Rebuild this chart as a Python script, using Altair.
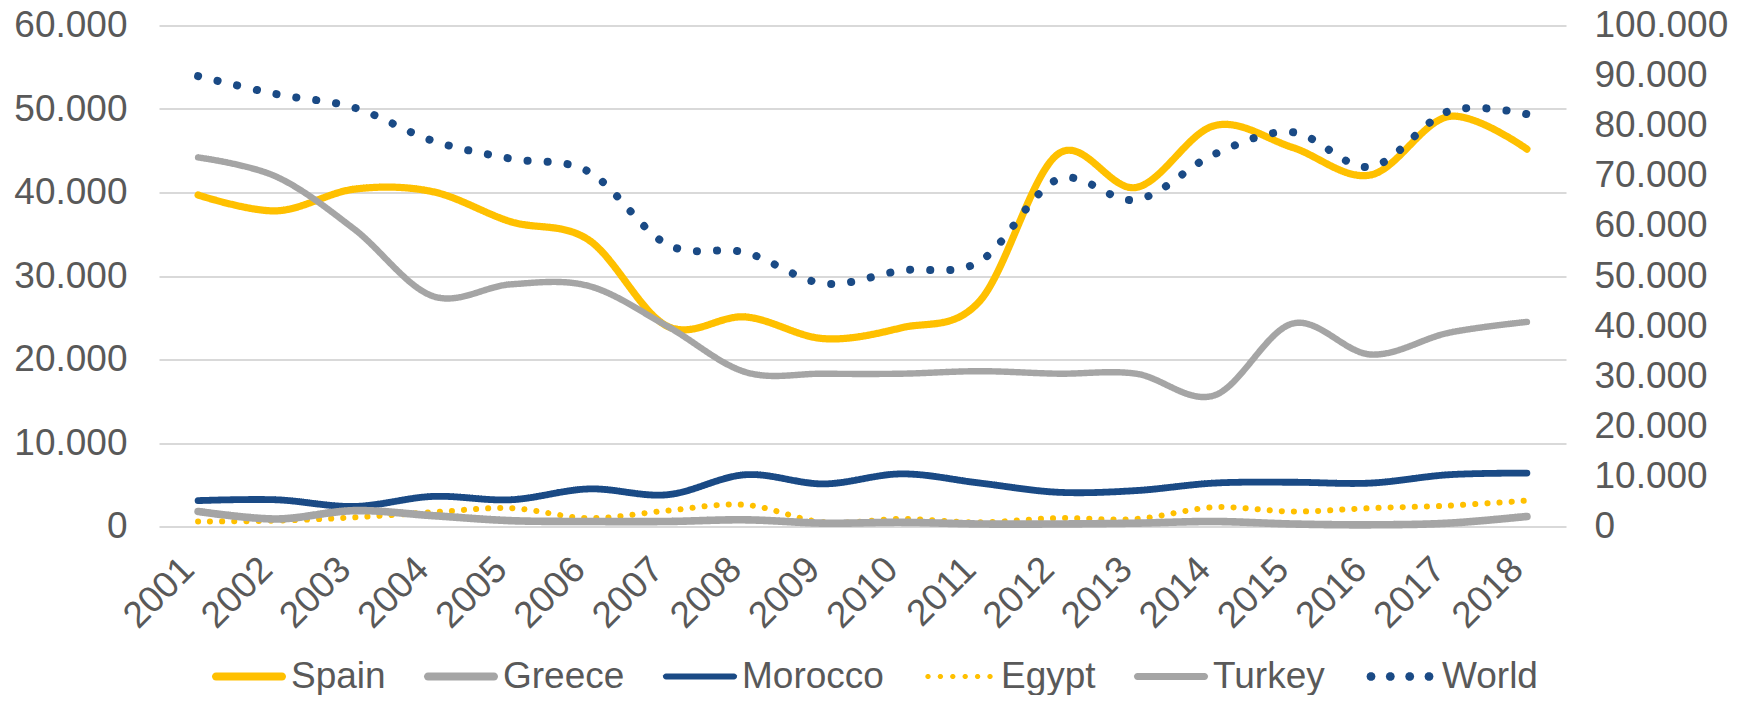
import math
import altair as alt
import pandas as pd

years = ["2001", "2002", "2003", "2004", "2005", "2006", "2007", "2008", "2009",
         "2010", "2011", "2012", "2013", "2014", "2015", "2016", "2017", "2018"]

spain = [39700, 37800, 40400, 40100, 36500, 34300, 24000, 25100, 22500,
         23800, 27000, 44600, 40600, 48000, 45400, 42100, 49100, 45200]
greece = [44200, 41900, 35600, 27600, 29000, 28800, 24000, 18500, 18300,
          18300, 18600, 18300, 18300, 15700, 24300, 20600, 23200, 24500]
morocco = [3100, 3200, 2400, 3600, 3200, 4500, 3800, 6200, 5100,
           6300, 5200, 4100, 4300, 5200, 5300, 5200, 6200, 6400]
egypt = [600, 700, 1100, 1700, 2200, 1000, 1900, 2600, 500,
         900, 500, 1000, 900, 2300, 1800, 2200, 2500, 3100]
turkey = [1800, 900, 1900, 1300, 700, 600, 600, 800, 400,
          500, 300, 300, 400, 600, 300, 200, 400, 1200]
world = [89900, 86300, 83600, 77000, 73400, 70800, 56300, 54700, 48500,
         51100, 52900, 69300, 65200, 74300, 78700, 71800, 82900, 82300]

series_names = ["Spain", "Greece", "Morocco", "Egypt", "Turkey", "World"]
series_colors = ["#FFC000", "#A5A5A5", "#1A4A85", "#FFC000", "#A5A5A5", "#1A4A85"]
series_dash = [[1, 0], [1, 0], [1, 0], [0.1, 12], [1, 0], [0.1, 20]]
series_width = [8, 8, 6, 6, 6.5, 9.5]

# style scales use an alphabetical domain (keeps them separate from the key)
style_order = sorted(series_names)
style_dash = [series_dash[series_names.index(n)] for n in style_order]
style_width = [series_width[series_names.index(n)] for n in style_order]

left_series = {"Spain": spain, "Greece": greece, "Morocco": morocco,
               "Egypt": egypt, "Turkey": turkey}

left_rows = []
for name, vals in left_series.items():
    for y, v in zip(years, vals):
        left_rows.append({"Year": y, "Series": name, "Value": v})
left_df = pd.DataFrame(left_rows)
right_df = pd.DataFrame({"Year": years, "Series": "World", "Value": world})
key_df = pd.DataFrame({"Year": years[0], "Series": series_names, "Value": 0})

FONT = "Liberation Sans"
TXT = "#595959"
label_expr = "replace(format(datum.value, ','), ',', '.')"

# ---- legend symbol paths (unit square -1..1, symbol is 74 px wide) ----
SYM = 74.0
HALF = SYM / 2


def f(v):
    return f"{v:.4f}"


def bar_path(thick_px):
    h = thick_px / 2 / HALF
    pts = []
    n = 8
    for k in range(n + 1):
        a = -math.pi / 2 + math.pi * k / n
        pts.append((1 - h + h * math.cos(a), h * math.sin(a)))
    for k in range(n + 1):
        a = math.pi / 2 + math.pi * k / n
        pts.append((-1 + h + h * math.cos(a), h * math.sin(a)))
    return "M" + " L".join(f"{f(x)},{f(y)}" for x, y in pts) + " Z"


def dots_path(offsets_px, dia_px):
    r = dia_px / 2 / HALF
    parts = []
    for c in offsets_px:
        cx = c / HALF
        pts = []
        for k in range(10):
            a = 2 * math.pi * k / 10
            pts.append((cx + r * math.cos(a), r * math.sin(a)))
        parts.append("M" + " L".join(f"{f(x)},{f(y)}" for x, y in pts) + " Z")
    return " ".join(parts)


legend_shapes = [
    bar_path(8),
    bar_path(8),
    bar_path(6),
    dots_path([-31, -18.6, -6.2, 6.2, 18.6, 31], 5.5),
    bar_path(7),
    dots_path([-29, -9.7, 9.7, 29], 9),
]

x_enc = alt.X("Year:N", sort=years, title=None,
              axis=alt.Axis(labelAngle=-45, labelAlign="right", labelBaseline="middle",
                            labelFontSize=37, labelFont=FONT,
                            labelColor=TXT, domain=False, ticks=False, grid=False,
                            labelPadding=37, labelOffset=-10))

leg = dict(orient="none", legendX=53, legendY=614, direction="horizontal", title=None,
           labelFont=FONT, labelFontSize=37, labelColor=TXT, symbolSize=SYM * SYM,
           labelOffset=5, columnPadding=38, padding=0, labelLimit=400,
           symbolStrokeWidth=0, symbolOpacity=1)


def line_encodings():
    return dict(
        color=alt.Color("Series:N",
                        scale=alt.Scale(domain=series_names, range=series_colors),
                        legend=None),
        strokeDash=alt.StrokeDash("Series:N",
                                  scale=alt.Scale(domain=style_order, range=style_dash),
                                  legend=None),
        strokeWidth=alt.StrokeWidth("Series:N",
                                    scale=alt.Scale(domain=style_order, range=style_width),
                                    legend=None),
    )


# legend-only layer (points fully transparent): supplies the key glyphs
key = alt.Chart(key_df).mark_point(filled=True, opacity=0).encode(
    x=x_enc,
    y=alt.Y("Value:Q", title=None, scale=alt.Scale(domain=[0, 1]), axis=None),
    color=alt.Color("Series:N", scale=alt.Scale(domain=series_names, range=series_colors),
                    legend=alt.Legend(**leg)),
    shape=alt.Shape("Series:N", scale=alt.Scale(domain=series_names, range=legend_shapes),
                    legend=alt.Legend(**leg)),
)

left = alt.Chart(left_df).mark_line(interpolate="cardinal", strokeCap="round",
                                    strokeJoin="round").encode(
    x=x_enc,
    y=alt.Y("Value:Q", title=None,
            scale=alt.Scale(domain=[0, 60000], nice=False),
            axis=alt.Axis(orient="left", values=[0, 10000, 20000, 30000, 40000, 50000, 60000],
                          labelExpr=label_expr, labelFontSize=37, labelFont=FONT,
                          labelColor=TXT, domain=False, ticks=False, grid=True,
                          gridColor="#D9D9D9", gridWidth=2, labelPadding=32)),
    **line_encodings(),
)

right = alt.Chart(right_df).mark_line(interpolate="cardinal", strokeCap="round",
                                      strokeJoin="round").encode(
    x=x_enc,
    y=alt.Y("Value:Q", title=None,
            scale=alt.Scale(domain=[0, 100000], nice=False),
            axis=alt.Axis(orient="right",
                          values=[0, 10000, 20000, 30000, 40000, 50000, 60000, 70000,
                                  80000, 90000, 100000],
                          labelExpr=label_expr, labelFontSize=37, labelFont=FONT,
                          labelColor=TXT, domain=False, ticks=False, grid=False,
                          labelPadding=28)),
    **line_encodings(),
)

chart = alt.layer(key, left, right).resolve_scale(y="independent").properties(
    width=1407, height=501,
    autosize=alt.AutoSizeParams(type="none"),
    padding={"left": 151, "top": 17.5, "right": 176, "bottom": 168},
).configure_view(stroke=None).configure_axis(labelFont=FONT)

chart.save("out.html", embed_options={"renderer": "svg", "actions": False})
